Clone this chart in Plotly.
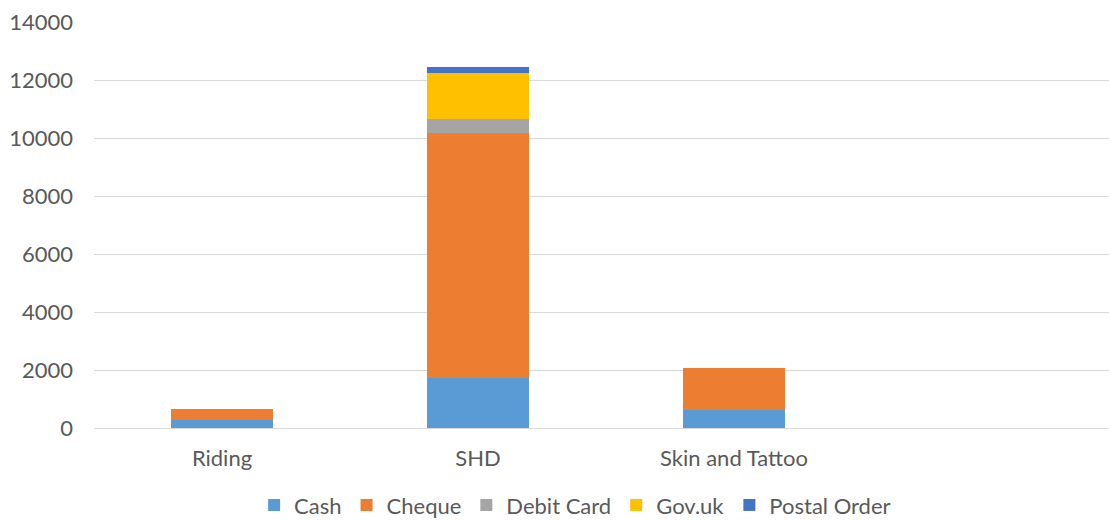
import plotly.graph_objects as go

categories = ["Riding", "SHD", "Skin and Tattoo"]
cash = [280, 1720, 620]
cheque = [390, 8460, 1460]
debit_card = [0, 470, 0]
gov_uk = [0, 1590, 0]
postal_order = [0, 210, 0]

series = [
    ("Cash", cash, "#5B9BD5"),
    ("Cheque", cheque, "#ED7D31"),
    ("Debit Card", debit_card, "#A5A5A5"),
    ("Gov.uk", gov_uk, "#FFC000"),
    ("Postal Order", postal_order, "#4472C4"),
]

fig = go.Figure()
for name, vals, color in series:
    fig.add_trace(go.Bar(x=categories, y=vals, name=name, marker_color=color,
                         marker_line_width=0))

font = dict(family="Lato, Open Sans, sans-serif", size=22, color="#595959")
fig.update_layout(
    barmode="stack",
    bargap=0.6,
    width=1109, height=520,
    margin=dict(l=94, r=0, t=22, b=92, autoexpand=False),
    paper_bgcolor="white", plot_bgcolor="white",
    font=font,
    xaxis=dict(type="category", range=[-0.5, 3.465], showgrid=False, automargin=False,
               showline=False, ticks="", tickfont=font, ticklabelstandoff=15),
    yaxis=dict(range=[0, 14000], dtick=2000, tickformat="d", showgrid=True,
               gridcolor="#D9D9D9", automargin=False,
               gridwidth=1, zeroline=True, zerolinecolor="#D9D9D9", zerolinewidth=1,
               showline=False, ticks="", tickfont=font, ticklabelstandoff=20),
    legend=dict(orientation="h", x=0.474, xanchor="center", y=-0.19, yanchor="middle",
                font=font, traceorder="normal", itemwidth=30),
    showlegend=True,
)
fig.write_html("out.html", config={"displayModeBar": False},
               post_script="document.body.style.margin='0';document.body.style.overflow='hidden';")
